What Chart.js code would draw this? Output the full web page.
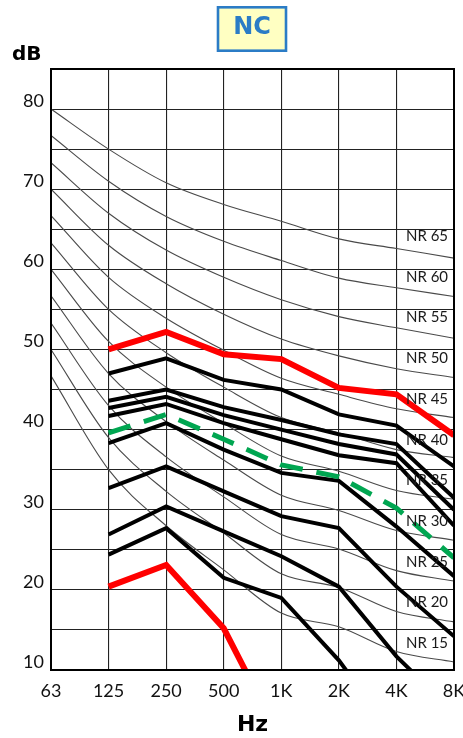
<!DOCTYPE html>
<html>
<head>
<meta charset="utf-8">
<script src="https://cdn.jsdelivr.net/npm/chart.js@4.4.0/dist/chart.umd.min.js"></script>
<style>
  html, body { margin: 0; padding: 0; background: #fff; }
  #wrap { width: 463px; height: 738px; position: relative; }
</style>
</head>
<body>
<div id="wrap"><canvas id="c"></canvas></div>
<script>
// ---- categories and tick labels ----
const freqLabels = ['63', '125', '250', '500', '1K', '2K', '4K', '8K'];
const yLabelValues = [10, 20, 30, 40, 50, 60, 70, 80];
const nrNames = ['NR 65', 'NR 60', 'NR 55', 'NR 50', 'NR 45', 'NR 40', 'NR 35', 'NR 30', 'NR 25', 'NR 20', 'NR 15'];
const nrLevels = [65, 60, 55, 50, 45, 40, 35, 30, 25, 20, 15];

// ---- NR reference curves (thin grey), 63 Hz .. 8 kHz ----
const nr65 = [80.0, 75.0, 70.8, 68.1, 66.0, 63.8, 62.6, 61.4];
const nr60 = [76.7, 71.0, 66.6, 63.5, 61.1, 58.9, 57.7, 56.6];
const nr55 = [73.3, 67.0, 62.4, 59.0, 56.2, 54.1, 52.7, 51.4];
const nr50 = [70.0, 63.0, 58.2, 54.4, 51.3, 49.2, 47.6, 46.5];
const nr45 = [66.7, 59.0, 53.9, 49.9, 46.4, 44.4, 42.6, 41.5];
const nr40 = [63.3, 55.0, 49.6, 45.3, 41.5, 39.6, 37.5, 36.5];
const nr35 = [60.0, 51.0, 45.3, 40.8, 36.7, 34.8, 32.4, 31.3];
const nr30 = [56.7, 47.0, 41.0, 36.2, 31.8, 29.9, 27.4, 26.2];
const nr25 = [53.3, 43.0, 36.6, 31.6, 26.9, 25.1, 22.4, 21.1];
const nr20 = [50.0, 39.0, 32.3, 27.1, 22.0, 20.3, 17.3, 16.0];
const nr15 = [46.7, 35.0, 28.0, 22.5, 17.1, 15.4, 12.3, 11.0];
const nrCurves = [nr65, nr60, nr55, nr50, nr45, nr40, nr35, nr30, nr25, nr20, nr15];

// ---- measured spectra (thick), 63 Hz .. 8 kHz ----
const redTop    = [null, 50.0, 52.2, 49.4, 48.8, 45.2, 44.4, 39.3];
const blackA    = [null, 47.0, 48.9, 46.2, 45.0, 41.9, 40.5, 35.4];
const blackB    = [null, 43.6, 45.0, 42.8, 41.2, 39.4, 38.2, 31.5];
const blackC    = [null, 42.7, 44.1, 41.8, 40.0, 38.2, 36.9, 30.0];
const blackD    = [null, 41.7, 43.2, 40.8, 38.8, 36.8, 35.8, 28.0];
const greenDash = [null, 39.6, 41.9, 38.8, 35.6, 34.1, 30.2, 24.0];
const blackE    = [null, 38.3, 40.8, 37.5, 34.6, 33.6, 27.9, 21.7];
const blackF    = [null, 32.7, 35.4, 32.3, 29.2, 27.7, 20.4, 14.2];
const blackG    = [null, 26.9, 30.4, 27.3, 24.2, 20.4, 11.7, 4.7];
const blackH    = [null, 24.4, 27.7, 21.5, 19.0, 11.2, 1.5, null];
const redBottom = [null, 20.4, 23.1, 15.2, 1.2, null, null, null];

const datasets = [];
function thick(data, color, width, dash) {
  datasets.push({
    data: data, borderColor: color, borderWidth: width, borderDash: dash || [],
    pointRadius: 0, tension: 0, fill: false, order: 1, clip: 0,
    borderCapStyle: 'butt', borderJoinStyle: 'miter', spanGaps: false
  });
}
thick(redTop, '#ff0000', 6);
thick(blackA, '#000000', 4);
thick(blackB, '#000000', 4);
thick(blackC, '#000000', 4);
thick(blackD, '#000000', 4);
thick(greenDash, '#00a651', 5, [23, 14]);
thick(blackE, '#000000', 4);
thick(blackF, '#000000', 4);
thick(blackG, '#000000', 4);
thick(blackH, '#000000', 4);
thick(redBottom, '#ff0000', 6);
nrCurves.forEach(function (d) {
  datasets.push({
    data: d, borderColor: '#4a4a4a', borderWidth: 1.1, pointRadius: 0,
    tension: 0.3, cubicInterpolationMode: 'monotone', fill: false, order: 2, clip: 0
  });
});

const decor = {
  id: 'decor',
  afterDatasetsDraw(chart) {
    const ctx = chart.ctx, a = chart.chartArea, ys = chart.scales.y;
    ctx.save();
    // frame
    ctx.strokeStyle = '#000';
    ctx.lineWidth = 2;
    ctx.strokeRect(a.left, a.top, a.right - a.left, a.bottom - a.top);
    // NR labels
    ctx.fillStyle = '#1a1a1a';
    ctx.font = '15px Lato';
    ctx.textAlign = 'center';
    ctx.textBaseline = 'middle';
    nrNames.forEach(function (t, i) {
      const lv = nrLevels[i];
      const y = ys.getPixelForValue(lv) + 7 + (65 - lv) * 0.125;
      ctx.fillText(t, a.right - 27, y);
    });
    // dB unit
    ctx.fillStyle = '#000';
    ctx.font = 'bold 20px "DejaVu Sans"';
    ctx.textAlign = 'left';
    ctx.textBaseline = 'alphabetic';
    ctx.fillText('dB', 12, 60);
    // NC title box
    ctx.fillStyle = '#ffffc2';
    ctx.fillRect(218, 7.3, 68, 43.4);
    ctx.strokeStyle = '#2b7cc6';
    ctx.lineWidth = 2.6;
    ctx.strokeRect(218, 7.3, 68, 43.4);
    ctx.fillStyle = '#2b7cc6';
    ctx.font = 'bold 24px "DejaVu Sans"';
    ctx.textAlign = 'center';
    ctx.textBaseline = 'alphabetic';
    ctx.fillText('NC', 252, 33.5);
    ctx.restore();
  }
};

new Chart(document.getElementById('c'), {
  type: 'line',
  data: { labels: freqLabels, datasets: datasets },
  options: {
    responsive: true,
    maintainAspectRatio: false,
    animation: false,
    events: [],
    layout: { padding: { top: 69, right: 9, left: 0, bottom: 0 } },
    plugins: { legend: { display: false }, tooltip: { enabled: false }, title: { display: false } },
    scales: {
      x: {
        type: 'category',
        offset: false,
        grid: { color: '#222', lineWidth: 1.1, drawTicks: false },
        border: { color: '#000', width: 2 },
        ticks: { color: '#111', font: { family: 'Lato', size: 18 }, padding: 10, maxRotation: 0, autoSkip: false },
        title: { display: true, text: 'Hz', color: '#000', font: { family: 'DejaVu Sans', weight: 'bold', size: 22 }, padding: { top: 6, bottom: 0 } },
        afterFit(s) { s.height = 68; s.paddingLeft = 0; s.paddingRight = 0; }
      },
      y: {
        min: 10, max: 85,
        grid: { color: '#222', lineWidth: 1.1, drawTicks: false },
        border: { color: '#000', width: 2 },
        ticks: {
          stepSize: 5, color: '#111', font: { family: 'Lato', size: 18 }, padding: 7, labelOffset: -8,
          callback: function (v) { return yLabelValues.indexOf(v) >= 0 ? String(v) : ''; }
        },
        afterFit(s) { s.width = 51; s.paddingTop = 0; s.paddingBottom = 0; }
      }
    }
  },
  plugins: [decor]
});
</script>
</body>
</html>
